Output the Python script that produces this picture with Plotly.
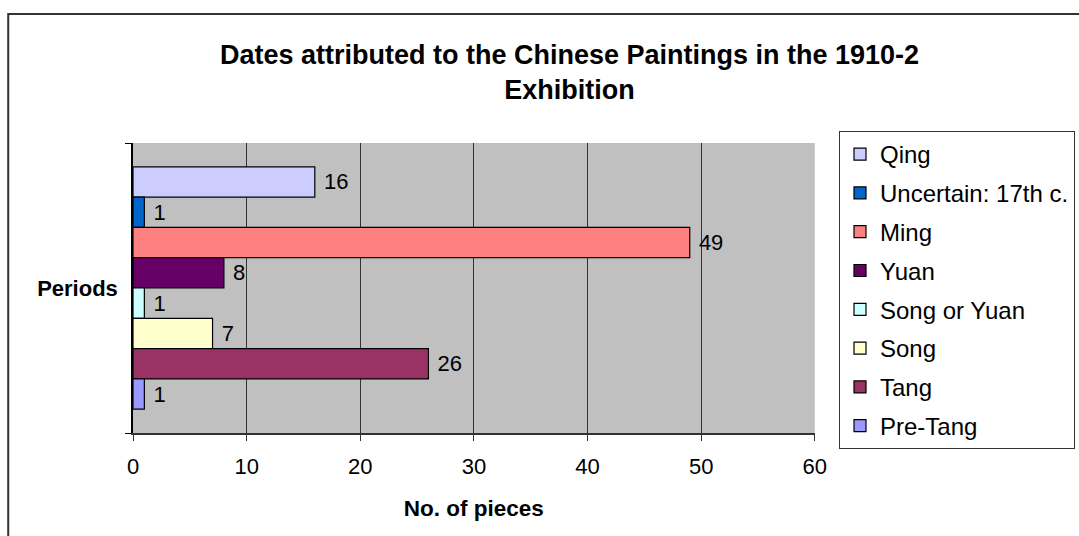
import plotly.graph_objects as go

# Data (legend order, top to bottom)
periods = ["Qing", "Uncertain: 17th c.", "Ming", "Yuan", "Song or Yuan", "Song", "Tang", "Pre-Tang"]
counts = [16, 1, 49, 8, 1, 7, 26, 1]
colors = ["#CCCCFF", "#0066CC", "#FF8080", "#660066", "#CCFFFF", "#FFFFCC", "#993366", "#9999FF"]
category = ["Periods"]
x_ticks = [0, 10, 20, 30, 40, 50, 60]

FONT = "Arial, Liberation Sans, sans-serif"
W, H = 1079, 536
L, R, T, B = 133, W - 816, 143, H - 433
PW, PH = W - L - R, H - T - B

fig = go.Figure()
for name, val, col in zip(periods, counts, colors):
    fig.add_trace(go.Bar(
        y=category, x=[val], name=name, orientation="h",
        marker=dict(color=col, line=dict(color="#000000", width=1.2)),
        texttemplate=" %{x}", textposition="outside", cliponaxis=False,
        textfont=dict(family=FONT, size=22, color="#000000"),
        legendgroup=name,
    ))

def px_x(p):
    return (p - L) / PW
def px_y(p):
    return (H - B - p) / PH

# outer chart border (extends beyond right/bottom edges)
fig.add_shape(type="rect", xref="paper", yref="paper",
              x0=px_x(8), x1=px_x(1200), y0=px_y(14), y1=px_y(600),
              line=dict(color="#333333", width=2), fillcolor="rgba(0,0,0,0)", layer="below")

fig.update_layout(
    width=W, height=H,
    margin=dict(l=L, r=R, t=T, b=B),
    paper_bgcolor="#FFFFFF",
    plot_bgcolor="#C0C0C0",
    barmode="group", bargap=0.164, bargroupgap=0,
    font=dict(family=FONT, color="#000000"),
    title=dict(
        text="<b>Dates attributed to the Chinese Paintings in the 1910-2<br>Exhibition</b>",
        x=569.5 / W, xanchor="center", xref="container",
        y=1 - 64 / H, yanchor="top", yref="container",
        font=dict(family=FONT, size=27, color="#000000"),
    ),
    xaxis=dict(
        range=[0, 60], tickvals=x_ticks, ticktext=[str(v) for v in x_ticks],
        showgrid=True, gridcolor="#333333", gridwidth=1,
        showline=True, linecolor="#333333", linewidth=1.5,
        ticks="outside", ticklen=6, tickcolor="#333333",
        tickfont=dict(family=FONT, size=22, color="#000000"),
        ticklabelstandoff=7,
        title=dict(text="<b>No. of pieces</b>", font=dict(family=FONT, size=22.5, color="#000000"), standoff=22),
        zeroline=False, fixedrange=True,
    ),
    yaxis=dict(
        type="category", tickson="boundaries", autorange="reversed",
        showline=True, linecolor="#000000", linewidth=1.5,
        ticks="outside", ticklen=6, tickcolor="#000000",
        showgrid=False,
        tickfont=dict(family=FONT, size=22, color="#000000", weight="bold"),
        ticklabelstandoff=9,
        fixedrange=True,
    ),
    legend=dict(
        xref="container", yref="container",
        x=839 / W, xanchor="left", y=1 - 131 / H, yanchor="top",
        traceorder="grouped", tracegroupgap=4.6, maxheight=460,
        bordercolor="#333333", borderwidth=1, bgcolor="#FFFFFF",
        font=dict(family=FONT, size=24, color="#000000"),
    ),
    showlegend=True,
)

fig.write_html("out.html")
